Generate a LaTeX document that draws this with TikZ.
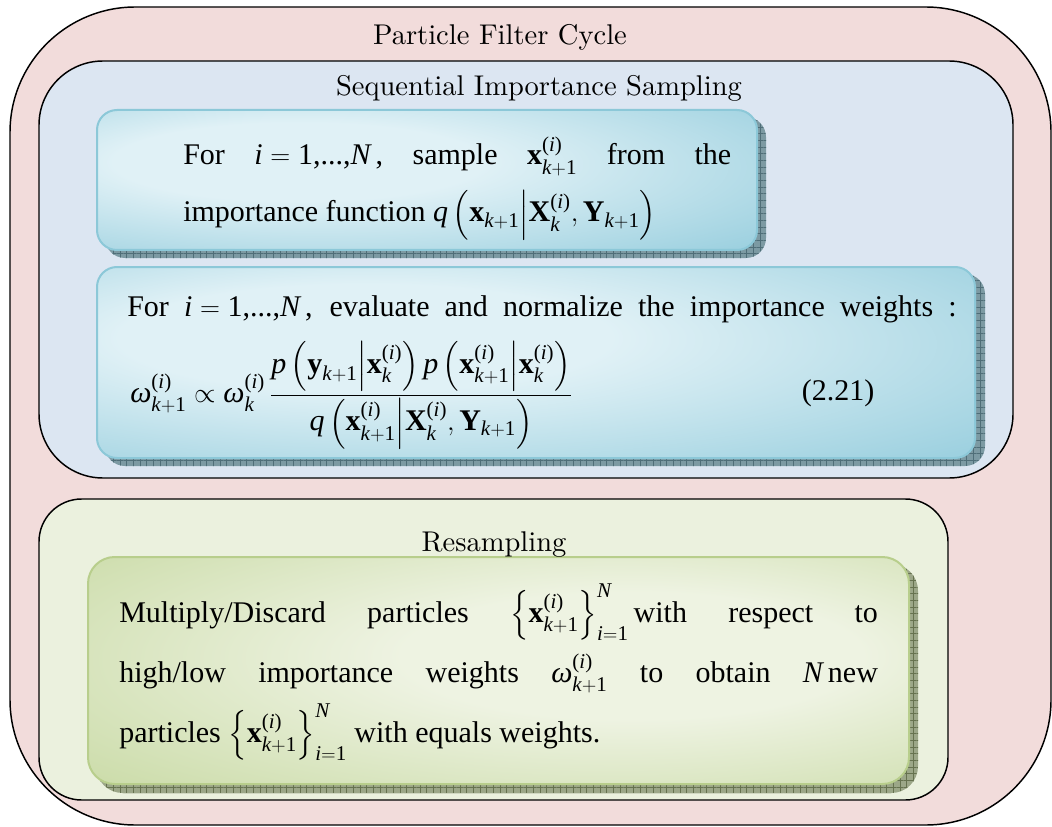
\documentclass[tikz,border=0pt]{standalone}
\usepackage{amsmath}
\usepackage{fontspec}
\newfontfamily\tnr{Liberation Serif}
\newfontfamily\lmten{lmroman10-regular.otf}
\usetikzlibrary{patterns.meta}
\newcommand{\myit}[1]{\text{\tnr\itshape #1}}
\newcommand{\mybf}[1]{\text{\tnr\bfseries #1}}
\newcommand{\myrm}[1]{\text{\tnr #1}}
\newcommand{\supi}{\myrm{(}\myit{i}\myrm{)}}
\newcommand{\kp}{\myit{k}{+}\myrm{1}}
\newcommand{\om}{\myit{ω}}
\definecolor{pinkbg}{HTML}{F2DCDB}
\definecolor{bluebg}{HTML}{DCE6F2}
\definecolor{greenbg}{HTML}{EBF1DE}
\definecolor{cyanlight}{HTML}{E0F1F6}
\definecolor{cyandark}{HTML}{8FCADB}
\definecolor{cyanedge}{HTML}{8CC8D8}
\definecolor{greenlight}{HTML}{EEF3E2}
\definecolor{greendark}{HTML}{BED393}
\definecolor{greenedge}{HTML}{B8CE8C}
\definecolor{cyanshadow}{HTML}{7C9AA3}
\definecolor{cyangrid}{HTML}{4F6E78}
\definecolor{greenshadow}{HTML}{9CA788}
\definecolor{greengrid}{HTML}{66724F}
\pgfdeclareradialshading{cyanglow}{\pgfpoint{-12bp}{8bp}}{color(0bp)=(cyanlight); color(14bp)=(cyanlight); color(46bp)=(cyandark); color(75bp)=(cyandark)}
\pgfdeclareradialshading{greenglow}{\pgfpoint{10bp}{4bp}}{color(0bp)=(greenlight); color(14bp)=(greenlight); color(50bp)=(greendark); color(75bp)=(greendark)}
\tikzset{
  container/.style={draw=black, line width=1.1pt},
  title/.style={inner sep=0pt, anchor=base, font=\lmten\fontsize{21.4}{25}\selectfont},
  body/.style={inner sep=0pt, anchor=base west, font=\tnr\fontsize{22.5}{27}\selectfont},
}
\begin{document}
\begin{tikzpicture}[x=0.75pt, y=-0.75pt]
\useasboundingbox (0,0) rectangle (1052,827);
% outer containers
\draw[container, fill=pinkbg, rounded corners=94pt] (10,7) rectangle (1051,825);
\draw[container, fill=bluebg, rounded corners=48pt] (39,61) rectangle (1013,478);
\draw[container, fill=greenbg, rounded corners=32pt] (39,499) rectangle (948,800);
% box 1
\fill[cyanshadow, rounded corners=15pt] (105,117) rectangle (766,258);
\path[pattern={Hatch[distance=5pt, line width=0.35pt]}, pattern color=cyangrid, rounded corners=15pt] (105,117) rectangle (766,258);
\shadedraw[shading=cyanglow, draw=cyanedge, line width=1.5pt, rounded corners=15pt] (97,110) rectangle (757,250);
% box 2
\fill[cyanshadow, rounded corners=15pt] (105,274) rectangle (985,466);
\path[pattern={Hatch[distance=5pt, line width=0.35pt]}, pattern color=cyangrid, rounded corners=15pt] (105,274) rectangle (985,466);
\shadedraw[shading=cyanglow, draw=cyanedge, line width=1.5pt, rounded corners=15pt] (97,267) rectangle (975,458);
% green box
\fill[greenshadow, rounded corners=20pt] (96,564) rectangle (918,793);
\path[pattern={Hatch[distance=5pt, line width=0.35pt]}, pattern color=greengrid, rounded corners=20pt] (96,564) rectangle (918,793);
\shadedraw[shading=greenglow, draw=greenedge, line width=1.5pt, rounded corners=20pt] (88,557) rectangle (909,784);
% titles
\node[title] (t1) at (500,45) {Particle Filter Cycle};
\node[title] (t2) at (539,96) {Sequential Importance Sampling};
\node[title] (t3) at (494,551) {Resampling};
% box 1 text
\node[body] (b1a) at (183,165) {\hbox to 411pt{For\hfill\mbox{$\myit{i}=\myrm{1,...,}\myit{N}$}\,,\hfill sample\hfill\mbox{$\mybf{x}_{\kp}^{\supi}$}\hfill from\hfill the}};
\node[body] (b1b) at (183,222) {importance function $\myit{q}\left(\mybf{x}_{\kp}\middle|\mybf{X}_{\myit{k}}^{\supi},\mybf{Y}_{\kp}\right)$};
% box 2 text
\node[body] (b2a) at (127,316) {\hbox to 622pt{For \mbox{$\myit{i}=\myrm{1,...,}\myit{N}$}\,, evaluate and normalize the importance weights :}};
\node[body] (eq) at (130,402) {$\displaystyle \om_{\kp}^{\supi}\propto\om_{\myit{k}}^{\supi}\,\frac{\myit{p}\left(\mybf{y}_{\kp}\middle|\mybf{x}_{\myit{k}}^{\supi}\right)\myit{p}\left(\mybf{x}_{\kp}^{\supi}\middle|\mybf{x}_{\myit{k}}^{\supi}\right)}{\myit{q}\left(\mybf{x}_{\kp}^{\supi}\middle|\mybf{X}_{\myit{k}}^{\supi},\mybf{Y}_{\kp}\right)}$};
\node[body, anchor=base] (eqn) at (838,400) {(2.21)};
% green text
\node[body] (g1) at (119,622) {\hbox to 569pt{Multiply/Discard\hfill particles\hfill\mbox{$\left\{\mybf{x}_{\kp}^{\supi}\right\}_{\myit{i}=\myrm{1}}^{\myit{N}}$}\,with\hfill respect\hfill to}};
\node[body] (g2) at (119,682) {\hbox to 569pt{high/low\hfill importance\hfill weights\hfill\mbox{$\om_{\kp}^{\supi}$}\hfill to\hfill obtain\hfill\mbox{$\myit{N}$}\,new}};
\node[body] (g3) at (119,742) {particles \mbox{$\left\{\mybf{x}_{\kp}^{\supi}\right\}_{\myit{i}=\myrm{1}}^{\myit{N}}$} with equals weights.};
\end{tikzpicture}
\end{document}
